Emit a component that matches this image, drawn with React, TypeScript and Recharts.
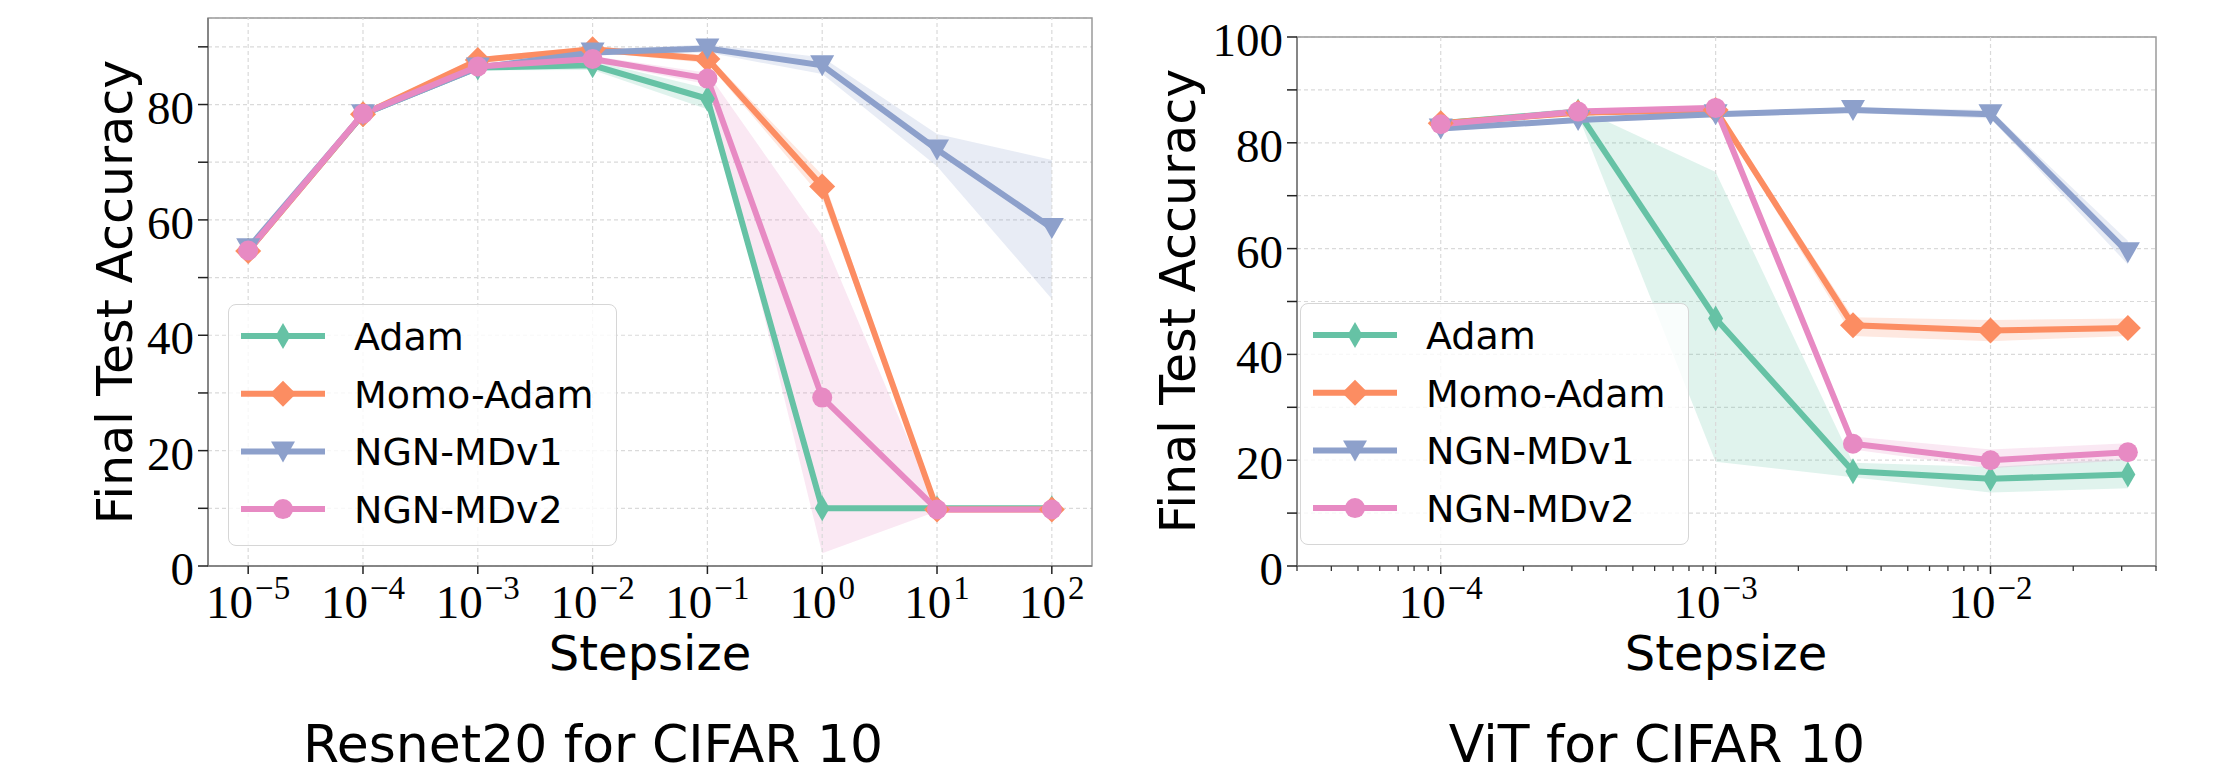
import React from "react";
import {
  Area,
  CartesianGrid,
  ComposedChart,
  Legend,
  Line,
  ReferenceArea,
  ReferenceLine,
  XAxis,
  YAxis,
} from "recharts";

// ---- Resnet20 / CIFAR10 ----
const resnetSteps = [1e-5, 1e-4, 1e-3, 1e-2, 1e-1, 1, 10, 100];
const resnetAdam = [54.7, 78.3, 86.4, 86.8, 81.0, 10.0, 10.0, 10.0];
const resnetAdamLo = [54.2, 77.8, 85.9, 86.0, 79.2, 9.7, 9.8, 9.8];
const resnetAdamHi = [55.2, 78.8, 86.9, 87.6, 82.8, 10.3, 10.2, 10.2];
const resnetMomo = [54.6, 78.3, 87.7, 89.6, 87.9, 65.8, 9.8, 9.8];
const resnetMomoLo = [54.1, 77.8, 87.2, 89.1, 87.2, 63.8, 9.6, 9.6];
const resnetMomoHi = [55.1, 78.8, 88.2, 90.1, 88.6, 67.8, 10.0, 10.0];
const resnetV1 = [55.1, 78.3, 86.4, 89.0, 89.7, 86.8, 72.2, 58.6];
const resnetV1Lo = [54.6, 77.8, 85.9, 88.5, 89.0, 85.3, 69.3, 46.3];
const resnetV1Hi = [55.6, 78.8, 86.9, 89.5, 90.4, 88.2, 74.9, 70.4];
const resnetV2 = [54.7, 78.4, 86.6, 87.9, 84.5, 29.2, 9.8, 9.8];
const resnetV2Lo = [54.2, 77.9, 86.1, 87.4, 83.5, 2.2, 9.5, 9.5];
const resnetV2Hi = [55.2, 78.9, 87.1, 88.4, 85.5, 57.2, 10.1, 10.1];
const resnetXTicks = [1e-5, 1e-4, 1e-3, 1e-2, 1e-1, 1, 10, 100];
const resnetYTicks = [0, 10, 20, 30, 40, 50, 60, 70, 80, 90];

// ---- ViT / CIFAR10 ----
const vitSteps = [0.0001, 0.000316, 0.001, 0.00316, 0.01, 0.0316];
const vitAdam = [83.7, 85.9, 46.8, 17.9, 16.5, 17.3];
const vitAdamLo = [83.2, 85.2, 19.7, 16.8, 13.9, 14.7];
const vitAdamHi = [84.2, 86.6, 74.5, 19.5, 18.7, 20.3];
const vitMomo = [83.7, 85.7, 86.2, 45.5, 44.5, 45.0];
const vitMomoLo = [83.2, 85.2, 85.7, 43.5, 42.5, 43.5];
const vitMomoHi = [84.2, 86.2, 86.7, 47.0, 46.5, 46.8];
const vitV1 = [82.7, 84.3, 85.4, 86.2, 85.4, 59.3];
const vitV1Lo = [82.2, 83.8, 84.9, 85.7, 84.6, 57.0];
const vitV1Hi = [83.2, 84.8, 85.9, 86.7, 86.2, 61.5];
const vitV2 = [83.5, 85.9, 86.6, 23.1, 20.0, 21.5];
const vitV2Lo = [83.0, 85.4, 86.1, 22.0, 18.5, 20.0];
const vitV2Hi = [84.0, 86.4, 87.1, 24.5, 22.0, 23.2];
const vitXTicks = [
  3e-5, 4e-5, 5e-5, 6e-5, 7e-5, 8e-5, 9e-5, 1e-4,
  2e-4, 3e-4, 4e-4, 5e-4, 6e-4, 7e-4, 8e-4, 9e-4, 1e-3,
  2e-3, 3e-3, 4e-3, 5e-3, 6e-3, 7e-3, 8e-3, 9e-3, 1e-2,
  2e-2, 3e-2, 4e-2,
];
const vitMajors = [1e-4, 1e-3, 1e-2];
const vitYTicks = [0, 10, 20, 30, 40, 50, 60, 70, 80, 90, 100];

type Shape = "thin" | "diamond" | "tri" | "circle";
const SERIES: { key: string; name: string; color: string; shape: Shape }[] = [
  { key: "adam", name: "Adam", color: "#66c2a5", shape: "thin" },
  { key: "momo", name: "Momo-Adam", color: "#fc8d62", shape: "diamond" },
  { key: "v1", name: "NGN-MDv1", color: "#8da0cb", shape: "tri" },
  { key: "v2", name: "NGN-MDv2", color: "#e78ac3", shape: "circle" },
];

function rows(steps: number[], cols: Record<string, number[]>) {
  return steps.map((x, i) => {
    const r: Record<string, number> = { x };
    Object.keys(cols).forEach((k) => (r[k] = cols[k][i]));
    return r;
  });
}

const resnetRows = rows(resnetSteps, {
  adam: resnetAdam, adamLo: resnetAdamLo, adamHi: resnetAdamHi,
  momo: resnetMomo, momoLo: resnetMomoLo, momoHi: resnetMomoHi,
  v1: resnetV1, v1Lo: resnetV1Lo, v1Hi: resnetV1Hi,
  v2: resnetV2, v2Lo: resnetV2Lo, v2Hi: resnetV2Hi,
});
const vitRows = rows(vitSteps, {
  adam: vitAdam, adamLo: vitAdamLo, adamHi: vitAdamHi,
  momo: vitMomo, momoLo: vitMomoLo, momoHi: vitMomoHi,
  v1: vitV1, v1Lo: vitV1Lo, v1Hi: vitV1Hi,
  v2: vitV2, v2Lo: vitV2Lo, v2Hi: vitV2Hi,
});

const SERIF = "'Liberation Serif', 'DejaVu Serif', serif";
const SANS = "'DejaVu Sans', sans-serif";
const GRID = "#dadada";
const LW = 6;

function Marker({ cx, cy, shape, color }: { cx: number; cy: number; shape: Shape; color: string }) {
  if (cx == null || cy == null || isNaN(cx) || isNaN(cy)) return null;
  if (shape === "thin")
    return <polygon points={`${cx},${cy - 13} ${cx + 7.5},${cy} ${cx},${cy + 13} ${cx - 7.5},${cy}`} fill={color} />;
  if (shape === "diamond")
    return <polygon points={`${cx},${cy - 13} ${cx + 13},${cy} ${cx},${cy + 13} ${cx - 13},${cy}`} fill={color} />;
  if (shape === "tri")
    return <polygon points={`${cx - 12},${cy - 10} ${cx + 12},${cy - 10} ${cx},${cy + 11}`} fill={color} />;
  return <circle cx={cx} cy={cy} r={10} fill={color} />;
}

function LogTick(props: any) {
  const { x, y, payload } = props;
  const p = Math.log10(payload.value);
  const e = Math.round(p);
  if (Math.abs(p - e) > 1e-6) {
    return <line x1={x} x2={x} y1={y} y2={y + 5} stroke="#333" strokeWidth={1.3} />;
  }
  return (
    <g>
      <line x1={x} x2={x} y1={y} y2={y + 8} stroke="#222" strokeWidth={1.5} />
      <text x={x} y={y + 52} textAnchor="middle" fontFamily={SERIF} fontSize={47} fill="#000">
        10
        <tspan dx={2} dy={-19} fontSize={33}>{e < 0 ? `\u2212${-e}` : `${e}`}</tspan>
      </text>
    </g>
  );
}

function YTick(props: any) {
  const { x, y, payload } = props;
  if (payload.value % 20 !== 0) return <g />;
  return (
    <text x={x} y={y + 19} textAnchor="end" fontFamily={SERIF} fontSize={47} fill="#000">
      {payload.value}
    </text>
  );
}

function LegendBox() {
  return (
    <div
      style={{
        width: 389,
        height: 242,
        boxSizing: "border-box",
        border: "1.5px solid #d6d6d6",
        borderRadius: 8,
        background: "rgba(255,255,255,0.8)",
      }}
    >
      <svg width={386} height={239} style={{ display: "block" }}>
        {SERIES.map((s, i) => {
          const y = 31 + i * 57.7;
          return (
            <g key={s.key}>
              <line x1={12} x2={96} y1={y} y2={y} stroke={s.color} strokeWidth={LW} />
              <Marker cx={54} cy={y} shape={s.shape} color={s.color} />
              <text x={125} y={y + 14} fontFamily={SANS} fontSize={38} fill="#000">
                {s.name}
              </text>
            </g>
          );
        })}
      </svg>
    </div>
  );
}

function Panel(props: {
  data: Record<string, number>[];
  domain: [number, number];
  xTicks: number[];
  majors: number[];
  yMax: number;
  yTicks: number[];
  margin: { top: number; right: number; bottom: number; left: number };
  legendLeft: number;
  legendTop: number;
}) {
  const { data, domain, xTicks, majors, yMax, yTicks, margin } = props;
  return (
    <ComposedChart width={1111} height={777} data={data} margin={margin}>
      <CartesianGrid vertical={false} stroke={GRID} strokeDasharray="4 3" strokeWidth={1.2} />
      {majors.map((v) => (
        <ReferenceLine key={v} x={v} stroke={GRID} strokeDasharray="4 3" strokeWidth={1.2} />
      ))}
      <ReferenceArea x1={domain[0]} x2={domain[1]} y1={0} y2={yMax} fill="none" stroke="#9a9a9a" strokeWidth={1.5} />
      <XAxis
        dataKey="x"
        type="number"
        scale="log"
        domain={domain}
        allowDataOverflow
        ticks={xTicks}
        interval={0}
        tickSize={0}
        tickMargin={0}
        tickLine={false}
        axisLine={{ stroke: "#777", strokeWidth: 1.5 }}
        height={60}
        tick={<LogTick />}
      />
      <YAxis
        type="number"
        domain={[0, yMax]}
        allowDataOverflow
        ticks={yTicks}
        interval={0}
        width={100}
        tickSize={10}
        tickMargin={4}
        tickLine={{ stroke: "#222", strokeWidth: 1.5 }}
        axisLine={{ stroke: "#777", strokeWidth: 1.5 }}
        tick={<YTick />}
      />
      {SERIES.map((s) => (
        <Area
          key={s.key + "band"}
          type="linear"
          dataKey={(d: any) => [d[s.key + "Lo"], d[s.key + "Hi"]]}
          stroke="none"
          fill={s.color}
          fillOpacity={0.2}
          dot={false}
          activeDot={false}
          legendType="none"
          isAnimationActive={false}
        />
      ))}
      {SERIES.map((s) => (
        <Line
          key={s.key}
          type="linear"
          dataKey={s.key}
          name={s.name}
          stroke={s.color}
          strokeWidth={LW}
          dot={(p: any) => (
            <Marker key={`${s.key}-${p.index}`} cx={p.cx} cy={p.cy} shape={s.shape} color={s.color} />
          )}
          activeDot={false}
          isAnimationActive={false}
        />
      ))}
      <Legend
        layout="vertical"
        align="center"
        verticalAlign="middle"
        content={() => <LegendBox />}
        wrapperStyle={{ position: "absolute", left: props.legendLeft, top: props.legendTop, width: 389, height: 242, margin: 0, padding: 0 }}
      />
    </ComposedChart>
  );
}

export default function App() {
  return (
    <div style={{ position: "absolute", left: 0, top: 0, width: 2222, height: 777, background: "#fff" }}>
      <div style={{ position: "absolute", left: 0, top: 0 }}>
        <Panel
          data={resnetRows}
          domain={[Math.pow(10, -5.35), Math.pow(10, 2.35)]}
          xTicks={resnetXTicks}
          majors={resnetXTicks}
          yMax={95}
          yTicks={resnetYTicks}
          margin={{ top: 18, right: 19, bottom: 151, left: 108 }}
          legendLeft={228}
          legendTop={304}
        />
      </div>
      <div style={{ position: "absolute", left: 1111, top: 0 }}>
        <Panel
          data={vitRows}
          domain={[3e-5, 4e-2]}
          xTicks={vitXTicks}
          majors={vitMajors}
          yMax={100}
          yTicks={vitYTicks}
          margin={{ top: 37, right: 66, bottom: 151, left: 86 }}
          legendLeft={189}
          legendTop={303}
        />
      </div>
      <svg width={2222} height={777} style={{ position: "absolute", left: 0, top: 0, pointerEvents: "none" }}>
        <g fontFamily={SANS} fill="#000">
          <text transform="translate(132,292) rotate(-90)" textAnchor="middle" fontSize={49}>Final Test Accuracy</text>
          <text transform="translate(1195,301) rotate(-90)" textAnchor="middle" fontSize={49}>Final Test Accuracy</text>
          <text x={650} y={670} textAnchor="middle" fontSize={48}>Stepsize</text>
          <text x={1726} y={670} textAnchor="middle" fontSize={48}>Stepsize</text>
          <text x={593} y={762} textAnchor="middle" fontSize={52}>Resnet20 for CIFAR 10</text>
          <text x={1657} y={762} textAnchor="middle" fontSize={52}>ViT for CIFAR 10</text>
        </g>
      </svg>
    </div>
  );
}
